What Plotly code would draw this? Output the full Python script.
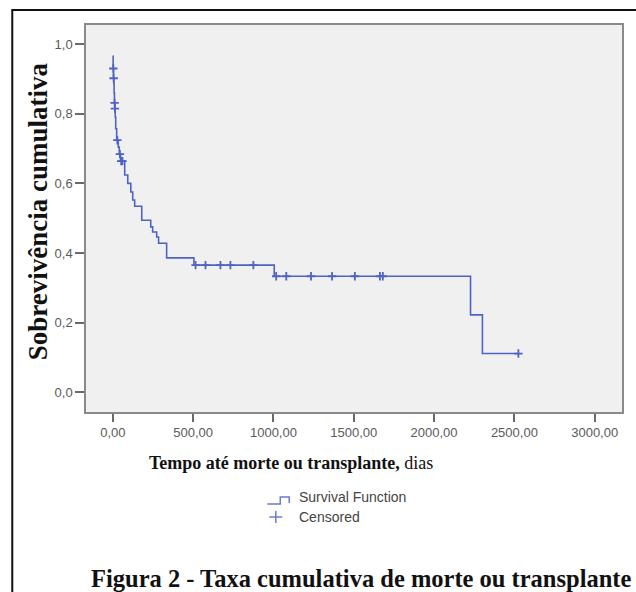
import plotly.graph_objects as go

# ---- data ----
step_days = [0, 2, 4, 6, 8, 10, 12, 15, 18, 24, 34, 40, 48, 74, 93, 112, 124, 136,
             180, 236, 248, 273, 285, 335, 505, 1005, 2227, 2301, 2525]
step_surv = [0.966, 0.930, 0.902, 0.887, 0.860, 0.831, 0.815, 0.790, 0.757, 0.724,
             0.704, 0.684, 0.664, 0.624, 0.600, 0.575, 0.552, 0.534, 0.494, 0.475,
             0.460, 0.446, 0.428, 0.386, 0.365, 0.333, 0.222, 0.111, 0.111]

cens_days = [3, 5, 11, 13, 28, 44, 52, 60, 515, 577, 670, 732, 875,
             1017, 1080, 1234, 1365, 1507, 1663, 1681, 2525]
cens_surv = [0.930, 0.902, 0.831, 0.815, 0.724, 0.684, 0.664, 0.664, 0.365, 0.365,
             0.365, 0.365, 0.365, 0.333, 0.333, 0.333, 0.333, 0.333, 0.333, 0.333, 0.111]

x_ticks = [0, 500, 1000, 1500, 2000, 2500, 3000]
x_tick_labels = ["0,00", "500,00", "1000,00", "1500,00", "2000,00", "2500,00", "3000,00"]
y_ticks = [0.0, 0.2, 0.4, 0.6, 0.8, 1.0]
y_tick_labels = ["0,0", "0,2", "0,4", "0,6", "0,8", "1,0"]

BLUE = "#4f63c2"
W, H = 636, 592
L, R, T, B = 86, 12, 25, 180
pw, ph = W - L - R, H - T - B


def px(xp):
    return (xp - L) / pw


def py(yp):
    return (H - B - yp) / ph


fig = go.Figure()
fig.add_trace(go.Scatter(x=step_days, y=step_surv, mode="lines",
                         line=dict(color=BLUE, width=1.6, shape="hv"),
                         showlegend=False, hoverinfo="skip"))
fig.add_trace(go.Scatter(x=cens_days, y=cens_surv, mode="markers",
                         marker=dict(symbol="cross-thin", size=6,
                                     line=dict(color=BLUE, width=1.8)),
                         showlegend=False, hoverinfo="skip"))

axis_common = dict(showgrid=False, zeroline=False, showline=True, mirror=True,
                   linecolor="#8a8a8a", linewidth=1.5, ticks="outside",
                   tickcolor="#6a6a6a", tickwidth=1.5,
                   tickfont=dict(family="Liberation Sans, Arial", size=13, color="#5a5a5a"))

fig.update_layout(
    width=W, height=H,
    margin=dict(l=L, r=R, t=T, b=B),
    paper_bgcolor="white",
    plot_bgcolor="#f0f0f0",
    xaxis=dict(range=[-167, 3170], tickvals=x_ticks, ticktext=x_tick_labels,
               ticklen=8, **axis_common),
    yaxis=dict(range=[-0.057, 1.055], tickvals=y_ticks, ticktext=y_tick_labels,
               ticklen=9, **axis_common),
    showlegend=False,
)

serif = "Liberation Serif, Times New Roman, serif"
annotations = [
    dict(text="<b>Sobrevivência cumulativa</b>", x=px(38), y=py(211),
         textangle=-90, font=dict(family=serif, size=27, color="#111")),
    dict(text="<b>Tempo até morte ou transplante,</b> dias", x=px(292), y=py(463),
         font=dict(family=serif, size=18, color="#111")),
    dict(text="Survival Function", x=px(298), y=py(497), xanchor="left",
         font=dict(family="Liberation Sans, Arial", size=14, color="#444")),
    dict(text="Censored", x=px(298), y=py(517), xanchor="left",
         font=dict(family="Liberation Sans, Arial", size=14, color="#444")),
    dict(text="<b>Figura 2 - Taxa cumulativa de morte ou transplante</b>",
         x=px(362), y=py(578),
         font=dict(family=serif, size=24.5, color="#111")),
]
for a in annotations:
    a.update(xref="paper", yref="paper", showarrow=False)
    a.setdefault("xanchor", "center")
    a.setdefault("yanchor", "middle")
fig.update_layout(annotations=annotations)

shapes = [
    # outer figure frame
    dict(type="rect", xref="paper", yref="paper", x0=px(12), x1=px(640),
         y0=py(600), y1=py(10), line=dict(color="#111", width=2)),
    # legend step icon
    dict(type="path", xref="paper", yref="paper",
         path=f"M {px(268)},{py(504)} L {px(281)},{py(504)} L {px(281)},{py(497)} "
              f"L {px(290)},{py(497)} L {px(290)},{py(503)}",
         line=dict(color="#6a7bd0", width=1.5)),
    # legend cross
    dict(type="line", xref="paper", yref="paper", x0=px(270), x1=px(283),
         y0=py(517), y1=py(517), line=dict(color="#6a7bd0", width=1.5)),
    dict(type="line", xref="paper", yref="paper", x0=px(276.5), x1=px(276.5),
         y0=py(511), y1=py(523), line=dict(color="#6a7bd0", width=1.5)),
]
fig.update_layout(shapes=shapes)

fig.write_html("out.html",
               config={"displayModeBar": False},
               post_script="document.body.style.margin='0';document.body.style.overflow='hidden';")
